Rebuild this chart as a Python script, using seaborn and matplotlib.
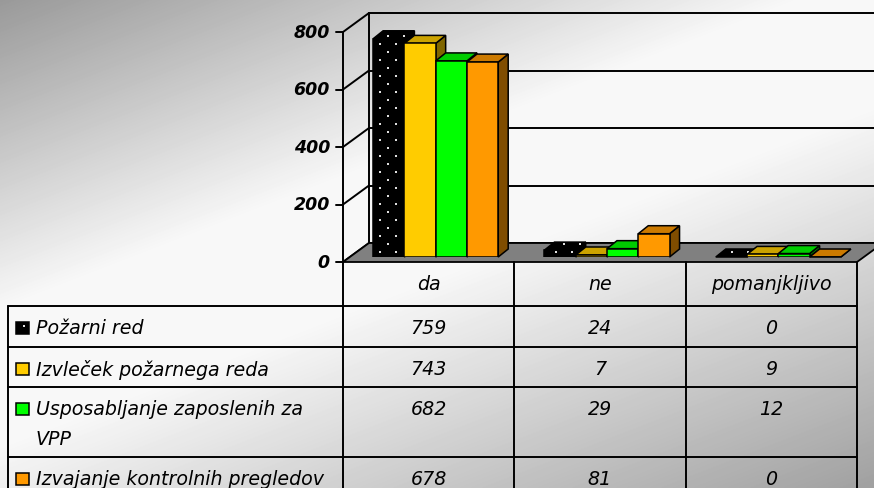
import numpy as np
import pandas as pd
import matplotlib
matplotlib.use("Agg")
import matplotlib.pyplot as plt
import seaborn as sns
from matplotlib.patches import Polygon, Rectangle
from matplotlib.path import Path
from matplotlib.transforms import IdentityTransform

# ---------------- data ----------------
categories = ["da", "ne", "pomanjkljivo"]
series_names = ["Požarni red", "Izvleček požarnega reda",
                "Usposabljanje zaposlenih za VPP", "Izvajanje kontrolnih pregledov"]
table_labels = ["Požarni red", "Izvleček požarnega reda",
                "Usposabljanje zaposlenih za\nVPP", "Izvajanje kontrolnih pregledov"]
pozarni_red = [759, 24, 0]
izvlecek = [743, 7, 9]
usposabljanje = [682, 29, 12]
izvajanje = [678, 81, 0]
y_ticks = [0, 200, 400, 600, 800]
colors = ["#000000", "#FFCC00", "#00FF00", "#FF9900"]

values = [pozarni_red, izvlecek, usposabljanje, izvajanje]
df = pd.DataFrame(
    [(c, s, v[i]) for s, v in zip(series_names, values) for i, c in enumerate(categories)],
    columns=["kategorija", "serija", "vrednost"])

# ---------------- figure ----------------
W, H, DPI = 874, 489, 100
sns.set_theme(style="white")
plt.rcParams["font.family"] = ["DejaVu Sans"]

fig = plt.figure(figsize=(W / DPI, H / DPI), dpi=DPI)
bg = fig.add_axes([0, 0, 1, 1], zorder=0)
bg.set_xlim(0, W)
bg.set_ylim(0, H)
bg.axis("off")

# gradient background (diagonal, white band in the middle)
xx, yy = np.meshgrid(np.arange(W) + 0.5, np.arange(H) + 0.5)
d = xx / 800 + yy / 310
v = np.where(d < 1, 0.60 + 0.37 * d,
             np.where(d < 1.45, 0.97, 0.97 - 0.28 * (d - 1.45)))
bg.imshow(v, cmap="gray", vmin=0, vmax=1, extent=[0, W, 0, H], origin="upper",
          aspect="auto", interpolation="bilinear", zorder=0)

# main axes = front plane of the bars
ax = fig.add_axes([350 / W, 231 / H, 514 / W, 230 / H], zorder=1)
sns.barplot(data=df, x="kategorija", y="vrednost", hue="serija", order=categories,
            hue_order=series_names, palette=colors, width=0.73, saturation=1,
            edgecolor="black", linewidth=1.1, errorbar=None, legend=False, ax=ax)
ax.set_xlim(-0.5, 2.5)
ax.set_ylim(0, 800)
ax.axis("off")

FX, FY = -7, -5      # floor front relative to bar plane
BX, BY = 19, 14      # back wall relative to bar plane
DX, DY = 10, 8       # bar depth


def disp(x, val):
    return ax.transData.transform((x, val))


def shade(c, f):
    r, g, b, _ = matplotlib.colors.to_rgba(c)
    return (r * f, g * f, b * f)


def dots(target, poly, z):
    """white dot pattern (checkerboard, 8 px rows) inside a display-space polygon"""
    poly = np.asarray(poly)
    xmin, ymin = poly.min(axis=0)
    xmax, ymax = poly.max(axis=0)
    pts = []
    for yv in np.arange(np.floor(ymin / 8) * 8 + 4, ymax, 8):
        off = 8 if int(yv // 8) % 2 else 0
        for xv in np.arange(np.floor(xmin / 16) * 16 + off + 4, xmax, 16):
            pts.append((xv, yv))
    if not pts:
        return
    pts = np.array(pts)
    inside = Path(poly).contains_points(pts, radius=-2.5)
    pts = pts[inside]
    if len(pts):
        target.scatter(pts[:, 0], pts[:, 1], s=3.5, marker="s", color="#e0e0e0",
                       linewidths=0, transform=IdentityTransform(), clip_on=False,
                       zorder=z)


# ---------------- walls, floor, axis ----------------
lw_grid = 1.4
for t in y_ticks:
    px, py = disp(-0.5, t)
    yf, yb = py + FY, py + BY
    bg.plot([px + BX, W + 5], [yb, yb], color="black", lw=lw_grid, zorder=2)
    bg.plot([px + FX, px + BX], [yf, yb], color="black", lw=lw_grid, zorder=2)
    bg.plot([px + FX - 7, px + FX], [yf, yf], color="black", lw=lw_grid, zorder=2)
    bg.text(px + FX - 13, yf, f"{t}", ha="right", va="center", fontsize=12.5,
            fontweight="bold", fontstyle="italic", color="black", zorder=3)

x0p, y0p = disp(-0.5, 0)
x1p, _ = disp(2.5, 0)
_, ytop = disp(-0.5, y_ticks[-1])
bg.plot([x0p + BX, x0p + BX], [y0p + BY, ytop + BY], color="black", lw=lw_grid, zorder=2)

floor = Polygon([(x0p + FX, y0p + FY), (x1p + FX, y0p + FY),
                 (x1p + BX, y0p + BY), (x0p + BX, y0p + BY)], closed=True,
                facecolor="#808080", edgecolor="black", lw=1.3, zorder=3)
bg.add_patch(floor)

# ---------------- 3-D bar faces ----------------
bars = sorted(ax.patches, key=lambda p: p.get_x())
for k, p in enumerate(bars):
    fc = p.get_facecolor()
    is_black = sum(fc[:3]) < 0.05
    (ax0, ay0) = disp(p.get_x(), 0)
    (ax1, ay1) = disp(p.get_x() + p.get_width(), p.get_height())
    base = 10 + 4 * k
    p.set_zorder(base + 2)
    front = [(ax0, ay0), (ax1, ay0), (ax1, ay1), (ax0, ay1)]
    top = [(ax0, ay1), (ax1, ay1), (ax1 + DX, ay1 + DY), (ax0 + DX, ay1 + DY)]
    side = [(ax1, ay0), (ax1 + DX, ay0 + DY), (ax1 + DX, ay1 + DY), (ax1, ay1)]
    for poly, col in [(side, shade(fc, 0.5)), (top, shade(fc, 0.8))]:
        ax.add_patch(Polygon(poly, closed=True, facecolor=col, edgecolor="black",
                             lw=1.1, transform=IdentityTransform(), clip_on=False,
                             zorder=base + 1))
        if is_black:
            dots(ax, poly, base + 1.5)
    if is_black:
        dots(ax, front, base + 2.5)

# ---------------- data table ----------------
col_x = [disp(c - 0.5, 0)[0] + FX for c in range(len(categories) + 1)]
table_top = y0p + FY
row_tops = [H - 307, H - 348, H - 388, H - 458]
left_x = 8
lw_tab = 1.4

for yr in row_tops:
    bg.plot([left_x, col_x[-1]], [yr, yr], color="black", lw=lw_tab, zorder=4)
bg.plot([left_x, left_x], [row_tops[0], -2], color="black", lw=lw_tab, zorder=4)
for i, cx in enumerate(col_x):
    ytop_line = ytop + FY if i == 0 else table_top
    bg.plot([cx, cx], [ytop_line, -2], color="black", lw=lw_tab, zorder=4)

txt = dict(fontsize=13.7, fontstyle="italic", color="black", zorder=5)
for i, c in enumerate(categories):
    cx = (col_x[i] + col_x[i + 1]) / 2
    bg.text(cx, (table_top + row_tops[0]) / 2, c, ha="center", va="center", **txt)

for r, (lab, vals, col) in enumerate(zip(table_labels, values, colors)):
    yc = row_tops[r] - 22
    bg.add_patch(Rectangle((16, yc - 6), 13, 12, facecolor=col, edgecolor="black",
                           lw=1.1, zorder=5))
    if col == "#000000":
        bg.scatter([24], [yc + 2], s=3.5, marker="s", color="#e0e0e0",
                   linewidths=0, zorder=5.5)
    for j, line in enumerate(lab.split("\n")):
        bg.text(36, yc - 30 * j, line, ha="left", va="center", **txt)
    for i, val in enumerate(vals):
        cx = (col_x[i] + col_x[i + 1]) / 2
        bg.text(cx, yc, f"{val}", ha="center", va="center", **txt)

fig.savefig("out.png", dpi=DPI)
